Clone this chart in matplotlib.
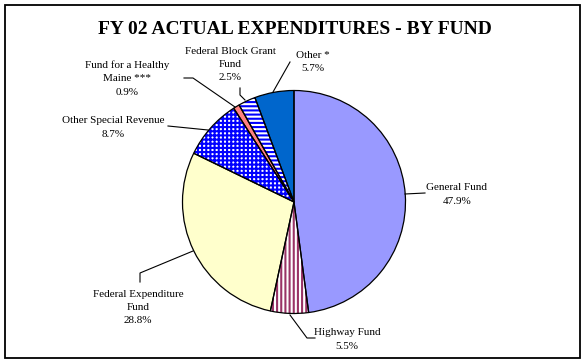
import matplotlib
matplotlib.use("Agg")
import matplotlib.pyplot as plt
from matplotlib.patches import Rectangle

plt.rcParams['font.family'] = ['Liberation Serif', 'DejaVu Serif']
plt.rcParams['hatch.linewidth'] = 1.5

# data
funds = ["General Fund", "Highway Fund", "Federal Expenditure\nFund",
         "Other Special Revenue", "Fund for a Healthy\nMaine ***",
         "Federal Block Grant\nFund", "Other *"]
shares = [47.9, 5.5, 28.8, 8.7, 0.9, 2.5, 5.7]
pct_labels = ["47.9%", "5.5%", "28.8%", "8.7%", "0.9%", "2.5%", "5.7%"]

face_colors = ["#9999FF", "white", "#FFFFCC", "white", "#FF8080", "white", "#0066CC"]
hatch_colors = ["#9999FF", "#993366", "#FFFFCC", "#0000FF", "#FF8080", "#0000FF", "#0066CC"]
hatches = [None, "||||", None, "++++", None, "----", None]

W, H = 587, 364
fig = plt.figure(figsize=(W / 100, H / 100), dpi=100)
ax = fig.add_axes([0, 0, 1, 1])

def py(y):
    # pixel row (from top) -> data y
    return H - y

cx, cy, r = 294, py(202), 111.5

# filled / hatched wedges
wedges, _ = ax.pie(shares, colors=face_colors, startangle=90, counterclock=False,
                   center=(cx, cy), radius=r, frame=True,
                   wedgeprops=dict(linewidth=0))
for w, hc, h in zip(wedges, hatch_colors, hatches):
    w.set_edgecolor(hc)
    if h:
        w.set_hatch(h)

# black outlines
outl, _ = ax.pie(shares, startangle=90, counterclock=False,
                 center=(cx, cy), radius=r, frame=True,
                 wedgeprops=dict(linewidth=0.9, edgecolor="black", fill=False))
ax.set_xlim(0, W)
ax.set_ylim(0, H)
ax.set_aspect("equal")
ax.axis("off")

# frame
ax.add_patch(Rectangle((5, py(358)), 575, 353, fill=False, lw=1.3, ec="black"))

ax.text(295, py(30), "FY 02 ACTUAL EXPENDITURES - BY FUND", ha="center", va="center",
        fontsize=14, fontweight="bold")

fs = 8
label_pos = [(457, 194.5), (347, 339.5), (138, 307.5), (113, 127.5),
             (127, 78.5), (230, 64.5), (313, 62)]
for name, pct, (lx, ly) in zip(funds, pct_labels, label_pos):
    ax.text(lx, py(ly), name + "\n" + pct, ha="center", va="center", fontsize=fs,
            linespacing=1.6)

# leader lines
leaders = [
    [(405, 194), (425, 193)],
    [(290, 315), (307, 338), (315, 338)],
    [(193, 251), (140, 273), (140, 282)],
    [(168, 126), (208, 130)],
    [(184, 78), (193, 78), (235, 107)],
    [(240, 88), (240, 95), (245, 100)],
    [(290, 62), (273, 92)],
]
for pts in leaders:
    xs = [p[0] for p in pts]
    ys = [py(p[1]) for p in pts]
    ax.plot(xs, ys, color="black", lw=0.8)

fig.savefig("out.png", dpi=100)
